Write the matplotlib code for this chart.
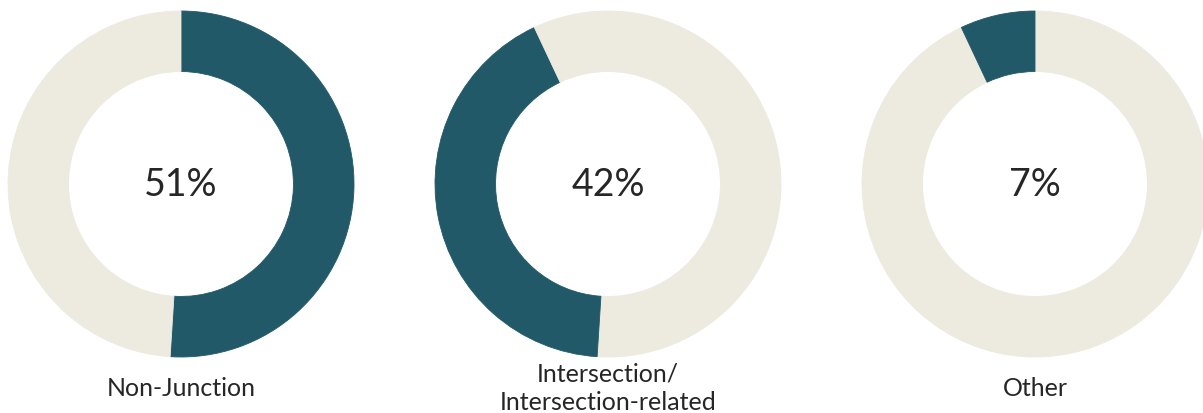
import matplotlib.pyplot as plt

# share of crashes by location
categories = ["Non-Junction", "Intersection/\nIntersection-related", "Other"]
shares = [51, 42, 7]

HIGHLIGHT = "#215968"
BACKGROUND = "#EDEBE0"
TEXT = "#262626"

plt.rcParams["font.family"] = ["Lato", "DejaVu Sans"]

W, H = 1203, 413
fig = plt.figure(figsize=(W / 100, H / 100), dpi=100)
ax = fig.add_axes([0, 0, 1, 1])

radius = 173
ring = 0.35 * radius
centers_x = [181, 608, 1035]
center_y = H - 184

for i, (label, cx) in enumerate(zip(categories, centers_x)):
    colors = [HIGHLIGHT if j == i else BACKGROUND for j in range(len(shares))]
    wedges, _ = ax.pie(shares, colors=colors, startangle=90, counterclock=False,
                       center=(cx, center_y), radius=radius, frame=True,
                       wedgeprops=dict(width=ring, linewidth=0.6))
    # hide the seam between neighbouring wedges of the same colour
    for w in wedges:
        w.set_edgecolor(w.get_facecolor())
    ax.text(cx, center_y - 1, f"{shares[i]}%", ha="center", va="center",
            fontsize=27, color=TEXT)
    ax.text(cx, H - 388, label, ha="center", va="center", fontsize=18,
            color=TEXT, linespacing=1.3, multialignment="center")

ax.set_xlim(0, W)
ax.set_ylim(0, H)
ax.set_aspect("equal")
ax.axis("off")
fig.savefig("out.png", dpi=100, facecolor="white")
